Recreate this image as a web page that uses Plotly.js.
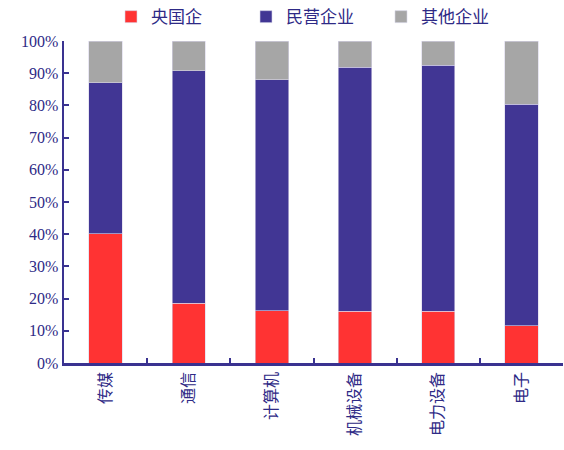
<!DOCTYPE html>
<html>
<head>
<meta charset="utf-8">
<script src="https://cdn.plot.ly/plotly-3.0.1.min.js"></script>
<style>
  html, body { margin: 0; padding: 0; background: #fff; }
  #chart { width: 564px; height: 450px; }
</style>
</head>
<body>
<div id="chart"></div>
<script>
// Industries (x categories)
const industries = ['传媒', '通信', '计算机', '机械设备', '电力设备', '电子'];

// Ownership shares, % of companies in each industry
const stateOwned = [40.1, 18.5, 16.2, 16.1, 16.1, 11.6];
const privateOwned = [46.9, 72.3, 71.7, 75.8, 76.4, 68.8];
const otherOwned = [13.0, 9.2, 12.1, 8.1, 7.5, 19.6];

const seriesNames = ['央国企', '民营企业', '其他企业'];
const seriesColors = ['#FF3333', '#413694', '#A6A6A6'];

const textColor = '#2E2A86';
const fontFamily = '"Liberation Serif", "Times New Roman", "Noto Sans CJK SC", serif';

const values = [stateOwned, privateOwned, otherOwned];
const traces = values.map((v, i) => ({
  type: 'bar',
  name: seriesNames[i],
  x: industries,
  y: v,
  marker: { color: seriesColors[i], line: { color: '#D8D6EA', width: 0.6 } },
  hoverinfo: 'x+y+name'
}));

const layout = {
  width: 564,
  height: 450,
  barmode: 'stack',
  bargap: 0.6,
  margin: { l: 64, r: 1, t: 41, b: 87, autoexpand: false },
  paper_bgcolor: '#fff',
  plot_bgcolor: '#fff',
  font: { family: fontFamily, color: textColor, size: 16 },
  showlegend: true,
  legend: {
    orientation: 'h',
    x: 0.5, xanchor: 'center',
    yref: 'container',
    y: 0.962, yanchor: 'middle',
    font: { size: 17, color: textColor, family: fontFamily },
    entrywidth: 90,
    itemwidth: 30,
    traceorder: 'normal'
  },
  xaxis: {
    type: 'category',
    showline: true,
    linecolor: '#3A3290',
    linewidth: 2.5,
    ticks: 'inside',
    tickson: 'boundaries',
    ticklen: 5,
    tickwidth: 2,
    tickcolor: '#3A3290',
    tickangle: -90,
    tickfont: { size: 16, color: textColor, family: fontFamily },
    showgrid: false,
    zeroline: false,
    fixedrange: true
  },
  yaxis: {
    range: [0, 100],
    dtick: 10,
    ticksuffix: '%',
    showline: true,
    linecolor: '#3A3290',
    linewidth: 2.5,
    ticks: 'inside',
    ticklen: 5,
    tickwidth: 2,
    tickcolor: '#3A3290',
    tickfont: { size: 16, color: textColor, family: fontFamily },
    showgrid: false,
    zeroline: false,
    fixedrange: true
  }
};

Plotly.newPlot('chart', traces, layout, { displayModeBar: false, staticPlot: true });
</script>
</body>
</html>
